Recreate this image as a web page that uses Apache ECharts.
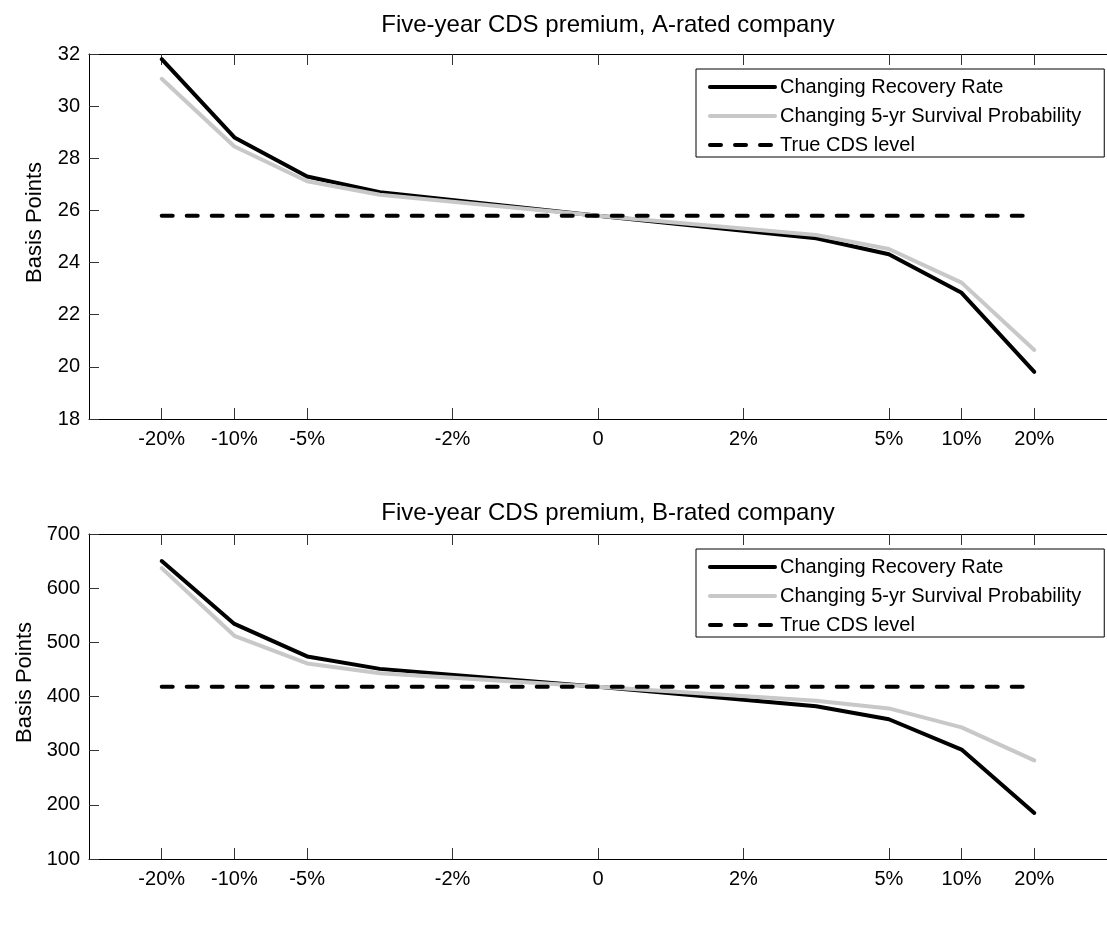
<!DOCTYPE html>
<html>
<head>
<meta charset="utf-8">
<title>Five-year CDS premium</title>
<script src="https://cdn.jsdelivr.net/npm/echarts@6/dist/echarts.min.js"></script>
<style>
  html, body { margin: 0; padding: 0; background: #fff; }
  #chart { width: 1107px; height: 926px; }
</style>
</head>
<body>
<div id="chart"></div>
<script>
// x positions of the points (index scale, not linear in %)
const xPos = [-6, -5, -4, -3, 0, 3, 4, 5, 6]
const tickPos = [-6, -5, -4, -2, 0, 2, 4, 5, 6]
const tickLabels = ['-20%', '-10%', '-5%', '-2%', '0', '2%', '5%', '10%', '20%']

// A-rated company
const aRecovery = [31.8, 28.8, 27.3, 26.7, 25.8, 24.93, 24.32, 22.84, 19.81]
const aSurvival = [31.05, 28.45, 27.12, 26.6, 25.8, 25.06, 24.52, 23.23, 20.65]
const aTrue = 25.8

// B-rated company
const bRecovery = [650, 534, 474, 451, 418, 382, 358, 302, 185]
const bSurvival = [637, 512, 461, 443, 418, 392, 378, 343, 282]
const bTrue = 418

const trueX = [-6, 6]
const names = ['Changing Recovery Rate', 'Changing 5-yr Survival Probability', 'True CDS level']

const font = 'Liberation Sans, Arial, Helvetica, sans-serif'
const pairs = (ys) => xPos.map((x, i) => [x, ys[i]])

const xBase = {
  type: 'value',
  min: -7,
  max: 7,
  splitLine: { show: false },
  axisLine: { onZero: false, lineStyle: { color: '#000', width: 1 } },
  axisTick: { inside: true, length: 11, customValues: tickPos, lineStyle: { color: '#333' } },
}

function xAxes(gridIndex) {
  return [
    Object.assign({}, xBase, {
      gridIndex,
      position: 'bottom',
      axisLabel: {
        customValues: tickPos,
        formatter: (v) => tickLabels[tickPos.indexOf(v)],
        color: '#000', fontSize: 20, fontFamily: font, margin: 10,
      },
    }),
    Object.assign({}, xBase, {
      gridIndex,
      position: 'top',
      axisLabel: { show: false },
    }),
  ]
}

function yAxis(gridIndex, min, max, interval) {
  return {
    type: 'value',
    gridIndex,
    position: 'left',
    min, max, interval,
    name: 'Basis Points',
    nameLocation: 'middle',
    nameGap: 43,
    nameTextStyle: { color: '#000', fontSize: 22, fontFamily: font, padding: [0, 0, 0, 28] },
    splitLine: { show: false },
    axisLine: { show: true, onZero: false, lineStyle: { color: '#000', width: 1 } },
    axisTick: { show: true, inside: true, length: 10, lineStyle: { color: '#333' } },
    axisLabel: { color: '#000', fontSize: 20, fontFamily: font, margin: 9 },
  }
}

function seriesFor(idx, rec, surv, level) {
  return [
    {
      name: names[0], type: 'line', xAxisIndex: idx * 2, yAxisIndex: idx,
      data: pairs(rec), symbol: 'none', silent: true,
      lineStyle: { color: '#000', width: 4, cap: 'round', join: 'round' },
      itemStyle: { color: '#000' },
    },
    {
      name: names[1], type: 'line', xAxisIndex: idx * 2, yAxisIndex: idx,
      data: pairs(surv), symbol: 'none', silent: true,
      lineStyle: { color: '#c8c8c8', width: 4, cap: 'round', join: 'round' },
      itemStyle: { color: '#c8c8c8' },
    },
    {
      name: names[2], type: 'line', xAxisIndex: idx * 2, yAxisIndex: idx,
      data: trueX.map((x) => [x, level]), symbol: 'none', silent: true,
      lineStyle: { color: '#000', width: 4, type: [11, 14], cap: 'round' },
      itemStyle: { color: '#000' },
    },
  ]
}

function legendAt(top) {
  return {
    data: names,
    orient: 'vertical',
    left: 696,
    top,
    itemWidth: 65,
    itemHeight: 20,
    itemGap: 9,
    padding: [8, 23, 2, 12],
    itemStyle: { opacity: 0 },
    lineStyle: { width: 4, cap: 'round' },
    textStyle: { color: '#000', fontSize: 20, fontFamily: font },
    backgroundColor: '#fff',
    borderColor: '#000',
    borderWidth: 1,
    borderRadius: 0,
    selectedMode: false,
  }
}

const chart = echarts.init(document.getElementById('chart'))
chart.setOption({
  animation: false,
  backgroundColor: '#fff',
  title: [
    { text: 'Five-year CDS premium, A-rated company', left: 603, top: 8, textAlign: 'center',
      textStyle: { color: '#000', fontSize: 24, fontWeight: 'normal', fontFamily: font } },
    { text: 'Five-year CDS premium, B-rated company', left: 603, top: 496, textAlign: 'center',
      textStyle: { color: '#000', fontSize: 24, fontWeight: 'normal', fontFamily: font } },
  ],
  legend: [legendAt(69), legendAt(549)],
  grid: [
    { left: 89, right: -11, top: 54, height: 365 },
    { left: 89, right: -11, top: 534, height: 325 },
  ],
  xAxis: xAxes(0).concat(xAxes(1)),
  yAxis: [yAxis(0, 18, 32, 2), yAxis(1, 100, 700, 100)],
  series: seriesFor(0, aRecovery, aSurvival, aTrue).concat(seriesFor(1, bRecovery, bSurvival, bTrue)),
})
</script>
</body>
</html>
